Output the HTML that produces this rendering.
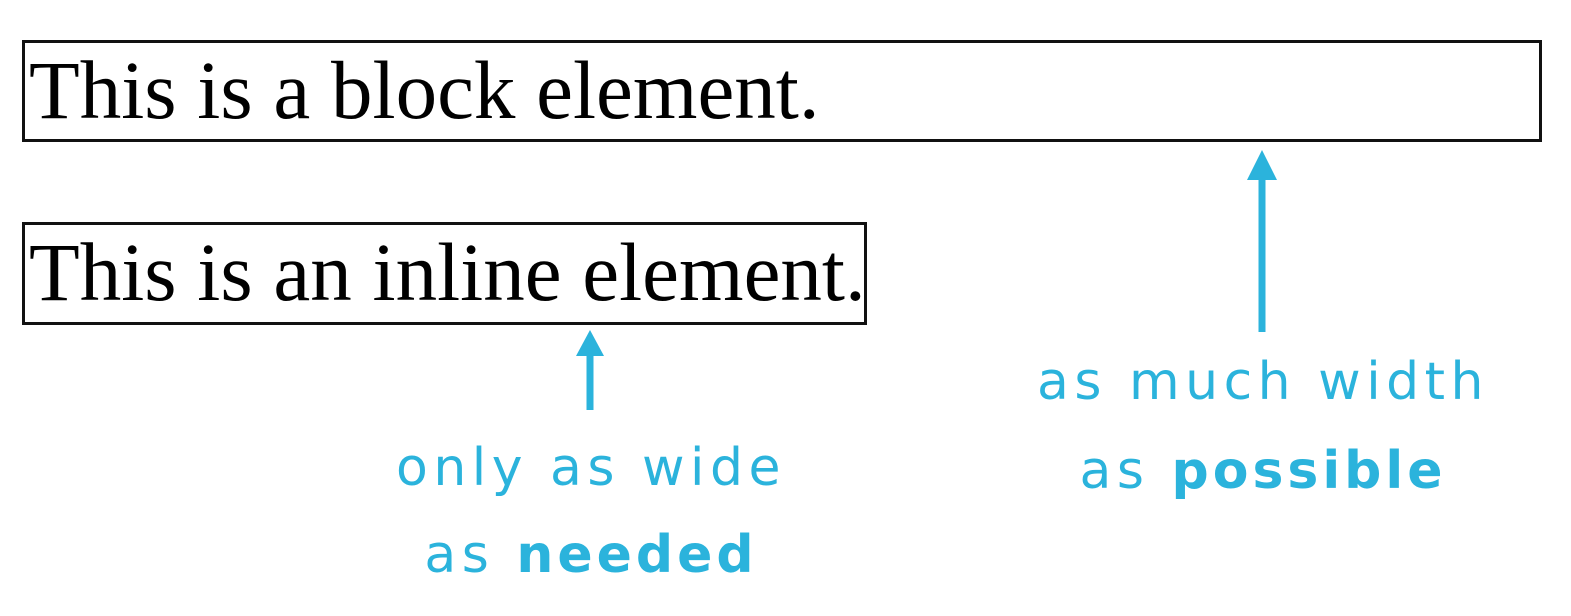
<!DOCTYPE html>
<html><head><style>
body{margin:0;width:1571px;height:616px;background:#fff;position:relative;overflow:hidden}
.box{position:absolute;border:3px solid #111;box-sizing:border-box}
.t{position:absolute;font-family:"Liberation Serif",serif;font-size:83px;color:#000;white-space:nowrap;line-height:1}
.l{position:absolute;font-family:"DejaVu Sans",sans-serif;font-size:52px;letter-spacing:5.5px;color:#2bb3dc;white-space:nowrap;text-align:center;line-height:1;transform:translateX(-50%)}
b{font-weight:bold;letter-spacing:4px}
</style></head><body>
<div class="box" style="left:22px;top:40px;width:1520px;height:102px"></div>
<div class="t" style="left:29px;top:49px">This is a block element.</div>
<div class="box" style="left:22px;top:222px;width:845px;height:103px"></div>
<div class="t" style="left:29px;top:231px">This is an inline element.</div>
<svg width="1571" height="616" style="position:absolute;left:0;top:0">
<g fill="#2bb3dc" stroke="#2bb3dc">
<line x1="590" y1="410" x2="590" y2="350" stroke-width="7"/>
<polygon points="576,356 590,330 604,356" stroke="none"/>
<line x1="1262" y1="332" x2="1262" y2="172" stroke-width="7"/>
<polygon points="1247,180 1262,150 1277,180" stroke="none"/>
</g></svg>
<div class="l" style="left:591px;top:442px">only as wide</div>
<div class="l" style="left:591px;top:529px">as <b>needed</b></div>
<div class="l" style="left:1263px;top:356px">as much width</div>
<div class="l" style="left:1263px;top:445px">as <b>possible</b></div>
</body></html>
